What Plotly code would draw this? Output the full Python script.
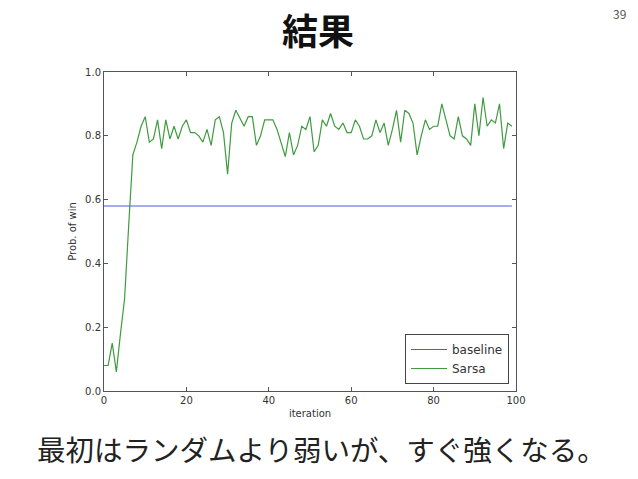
import plotly.graph_objects as go

# Sarsa win probability per iteration
iterations = list(range(100))
sarsa = [0.08, 0.08, 0.15, 0.06, 0.18, 0.29, 0.52, 0.74, 0.78, 0.83,
         0.86, 0.78, 0.79, 0.85, 0.76, 0.85, 0.79, 0.83, 0.79, 0.83,
         0.85, 0.81, 0.81, 0.80, 0.78, 0.82, 0.77, 0.85, 0.86, 0.81,
         0.68, 0.84, 0.88, 0.855, 0.83, 0.86, 0.86, 0.77, 0.80, 0.85,
         0.85, 0.85, 0.82, 0.775, 0.735, 0.81, 0.74, 0.77, 0.83, 0.82,
         0.86, 0.75, 0.77, 0.85, 0.83, 0.87, 0.83, 0.82, 0.84, 0.81,
         0.81, 0.85, 0.83, 0.79, 0.79, 0.80, 0.85, 0.81, 0.84, 0.77,
         0.82, 0.88, 0.78, 0.88, 0.87, 0.84, 0.74, 0.80, 0.85, 0.82,
         0.83, 0.83, 0.90, 0.85, 0.80, 0.79, 0.86, 0.80, 0.79, 0.77,
         0.90, 0.80, 0.92, 0.83, 0.85, 0.84, 0.90, 0.76, 0.84, 0.83]
baseline_value = 0.58
baseline = [baseline_value] * len(iterations)

x_ticks = [0, 20, 40, 60, 80, 100]
y_ticks = [0.0, 0.2, 0.4, 0.6, 0.8, 1.0]

BLUE = '#4a5ce6'
GREEN = '#3f9b3f'
TICK_FONT = dict(family='DejaVu Sans, sans-serif', size=10, color='#333333')

fig = go.Figure()
fig.add_trace(go.Scatter(x=iterations, y=baseline, mode='lines', name='baseline',
                         line=dict(color=BLUE, width=1.2)))
fig.add_trace(go.Scatter(x=iterations, y=sarsa, mode='lines', name='Sarsa',
                         line=dict(color=GREEN, width=1.2)))

axis_common = dict(showgrid=False, zeroline=False, showline=True, linecolor='#555555',
                   linewidth=1, mirror='ticks', ticks='inside', ticklen=4,
                   tickcolor='#555555', tickfont=TICK_FONT, automargin=False)

fig.update_layout(
    width=638, height=479,
    paper_bgcolor='white', plot_bgcolor='white',
    margin=dict(l=104, r=122, t=72, b=88),
    xaxis=dict(range=[0, 100], tickvals=x_ticks, ticktext=[str(v) for v in x_ticks],
               title=dict(text='iteration', font=TICK_FONT, standoff=4), **axis_common),
    yaxis=dict(range=[0, 1.0], tickvals=y_ticks, ticktext=[f'{v:.1f}' for v in y_ticks],
               title=dict(text='Prob. of win', font=TICK_FONT, standoff=6), **axis_common),
    legend=dict(x=0.983, y=0.022, xanchor='right', yanchor='bottom',
                bgcolor='white', bordercolor='#444444', borderwidth=1,
                font=dict(family='DejaVu Sans, sans-serif', size=12, color='#333333'),
                itemwidth=36, tracegroupgap=0),
    showlegend=True,
)

# slide title, page number and caption
fig.add_annotation(text='<b>結果</b>', xref='paper', yref='paper',
                   x=0.5, y=1.0, xshift=8, yshift=43, xanchor='center', yanchor='middle',
                   showarrow=False,
                   font=dict(family='Noto Sans CJK JP', size=36, color='#111111'))
fig.add_annotation(text='39', xref='paper', yref='paper',
                   x=1.0, y=1.0, xshift=103, yshift=59, xanchor='center', yanchor='middle',
                   showarrow=False,
                   font=dict(family='Noto Sans CJK JP', size=12, color='#555555'))
fig.add_annotation(text='最初はランダムより弱いが、すぐ強くなる。', xref='paper', yref='paper',
                   x=0.0, y=0.0, xshift=-69, yshift=-57, xanchor='left', yanchor='middle',
                   showarrow=False,
                   font=dict(family='Noto Sans CJK JP', size=28.5, color='#222222'))

# drop the default 8px body margin so the 638x479 figure fills the window
fig.write_html("out.html", config={'displayModeBar': False},
               post_script="document.body.style.margin='0';")
